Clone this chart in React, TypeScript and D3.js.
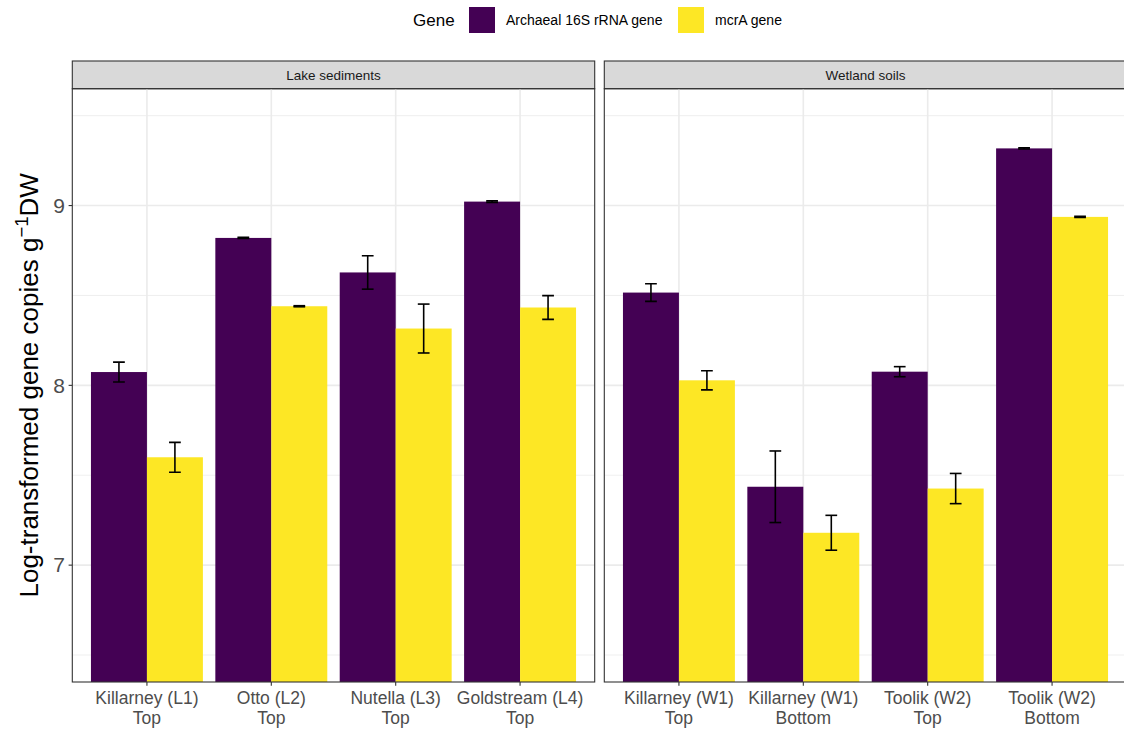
import React from "react";
import * as d3 from "d3";

const genes = ["Archaeal 16S rRNA gene", "mcrA gene"];
const geneColors = ["#440154", "#FDE725"];
const facets = ["Lake sediments", "Wetland soils"];

const lakeSites = ["Killarney (L1)", "Otto (L2)", "Nutella (L3)", "Goldstream (L4)"];
const lakeDepths = ["Top", "Top", "Top", "Top"];
const lakeArchaea = [8.074, 8.82, 8.628, 9.022];
const lakeArchaeaSE = [0.055, 0.003, 0.093, 0.004];
const lakeMcrA = [7.6, 8.44, 8.316, 8.433];
const lakeMcrASE = [0.083, 0.003, 0.136, 0.066];

const wetSites = ["Killarney (W1)", "Killarney (W1)", "Toolik (W2)", "Toolik (W2)"];
const wetDepths = ["Top", "Bottom", "Top", "Bottom"];
const wetArchaea = [8.516, 7.436, 8.076, 9.318];
const wetArchaeaSE = [0.049, 0.199, 0.028, 0.003];
const wetMcrA = [8.028, 7.18, 7.426, 8.937];
const wetMcrASE = [0.053, 0.097, 0.084, 0.003];

const yDomain = [6.35, 9.65];
const yMajor = [7, 8, 9];
const yMinor = [6.5, 7.5, 8.5, 9.5];

const FONT = "'Liberation Sans', Arial, sans-serif";

const panelsData = [
  { sites: lakeSites, depths: lakeDepths, values: [lakeArchaea, lakeMcrA], se: [lakeArchaeaSE, lakeMcrASE] },
  { sites: wetSites, depths: wetDepths, values: [wetArchaea, wetMcrA], se: [wetArchaeaSE, wetMcrASE] },
];

export default function App() {
  const W = 1124;
  const H = 731;
  const panelTop = 88.7;
  const panelBottom = 682;
  const stripTop = 61;
  const panelW = 522.4;
  const panelX = [72.3, 604.3];

  const y = d3.scaleLinear().domain(yDomain).range([panelBottom, panelTop]);

  return (
    <svg
      width={W}
      height={H}
      style={{ position: "absolute", left: 0, top: 0, background: "#fff" }}
      fontFamily={FONT}
    >
      <rect x={0} y={0} width={W} height={H} fill="#fff" />
      {/* legend */}
      <g>
        <text x={413} y={20} dy="0.35em" fontSize={17} fill="#000">Gene</text>
        {genes.map((g, i) => {
          const kx = [469, 678][i];
          const tx = [506, 715][i];
          return (
            <g key={g}>
              <rect x={kx} y={7} width={26} height={26} fill={geneColors[i]} />
              <text x={tx} y={20} dy="0.35em" fontSize={14} fill="#000">{g}</text>
            </g>
          );
        })}
      </g>

      {/* y title */}
      <text
        transform={`translate(38,${(panelTop + panelBottom) / 2}) rotate(-90)`}
        textAnchor="middle"
        fontSize={26}
        fill="#000"
      >
        Log-transformed gene copies g
        <tspan fontSize={18.5} dy={-10}>−1</tspan>
        <tspan dy={10}>DW</tspan>
      </text>

      {/* y tick labels and ticks */}
      {yMajor.map((v) => (
        <g key={v}>
          <text x={65} y={y(v)} dy="0.35em" textAnchor="end" fontSize={21} fill="#4D4D4D">{v}</text>
          <line x1={panelX[0] - 3.7} x2={panelX[0]} y1={y(v)} y2={y(v)} stroke="#333" strokeWidth={1.1} />
        </g>
      ))}

      {panelsData.map((p, pi) => {
        const x0 = panelX[pi];
        const domainKeys = p.sites.map((s, i) => `${s}|${p.depths[i]}|${i}`);
        const x = d3.scaleBand().domain(domainKeys).range([x0, x0 + panelW]).paddingInner(0.1).paddingOuter(0.15);
        const xg = d3.scaleBand().domain(genes).range([0, x.bandwidth()]).padding(0);
        const clipId = `clip${pi}`;
        const capW = xg.bandwidth() * 0.21;
        return (
          <g key={pi}>
            <defs>
              <clipPath id={clipId}>
                <rect x={x0} y={panelTop} width={panelW} height={panelBottom - panelTop} />
              </clipPath>
            </defs>
            {/* strip */}
            <rect x={x0} y={stripTop} width={panelW} height={panelTop - stripTop} fill="#D9D9D9" stroke="#333" strokeWidth={1.1} />
            <text x={x0 + panelW / 2} y={(stripTop + panelTop) / 2} dy="0.35em" textAnchor="middle" fontSize={13.5} fill="#1A1A1A">
              {facets[pi]}
            </text>
            {/* gridlines */}
            <g clipPath={`url(#${clipId})`}>
              {yMinor.map((v) => (
                <line key={`mi${v}`} x1={x0} x2={x0 + panelW} y1={y(v)} y2={y(v)} stroke="#EBEBEB" strokeWidth={0.8} />
              ))}
              {yMajor.map((v) => (
                <line key={`ma${v}`} x1={x0} x2={x0 + panelW} y1={y(v)} y2={y(v)} stroke="#EBEBEB" strokeWidth={1.6} />
              ))}
              {domainKeys.map((k) => {
                const cx = (x(k) as number) + x.bandwidth() / 2;
                return <line key={`v${k}`} x1={cx} x2={cx} y1={panelTop} y2={panelBottom} stroke="#EBEBEB" strokeWidth={1.6} />;
              })}
              {/* bars */}
              {domainKeys.map((k, ci) =>
                genes.map((g, gi) => {
                  const bx = (x(k) as number) + (xg(g) as number);
                  const v = p.values[gi][ci];
                  return (
                    <rect
                      key={`b${k}${g}`}
                      x={bx}
                      y={y(v)}
                      width={xg.bandwidth()}
                      height={panelBottom + 5 - y(v)}
                      fill={geneColors[gi]}
                    />
                  );
                })
              )}
              {/* error bars */}
              {domainKeys.map((k, ci) =>
                genes.map((g, gi) => {
                  const cx = (x(k) as number) + (xg(g) as number) + xg.bandwidth() / 2;
                  const v = p.values[gi][ci];
                  const s = p.se[gi][ci];
                  const yt = y(v + s);
                  const yb = y(v - s);
                  return (
                    <g key={`e${k}${g}`} stroke="#000" strokeWidth={1.6}>
                      <line x1={cx} x2={cx} y1={yt} y2={yb} />
                      <line x1={cx - capW / 2} x2={cx + capW / 2} y1={yt} y2={yt} />
                      <line x1={cx - capW / 2} x2={cx + capW / 2} y1={yb} y2={yb} />
                    </g>
                  );
                })
              )}
            </g>
            {/* panel border */}
            <rect x={x0} y={panelTop} width={panelW} height={panelBottom - panelTop} fill="none" stroke="#333" strokeWidth={1.1} />
            {/* x ticks and labels */}
            {domainKeys.map((k, ci) => {
              const cx = (x(k) as number) + x.bandwidth() / 2;
              return (
                <g key={`xt${k}`}>
                  <line x1={cx} x2={cx} y1={panelBottom} y2={panelBottom + 3.7} stroke="#333" strokeWidth={1.1} />
                  <text x={cx} y={704} textAnchor="middle" fontSize={17.5} fill="#4D4D4D">{p.sites[ci]}</text>
                  <text x={cx} y={723.5} textAnchor="middle" fontSize={17.5} fill="#4D4D4D">{p.depths[ci]}</text>
                </g>
              );
            })}
          </g>
        );
      })}
    </svg>
  );
}
